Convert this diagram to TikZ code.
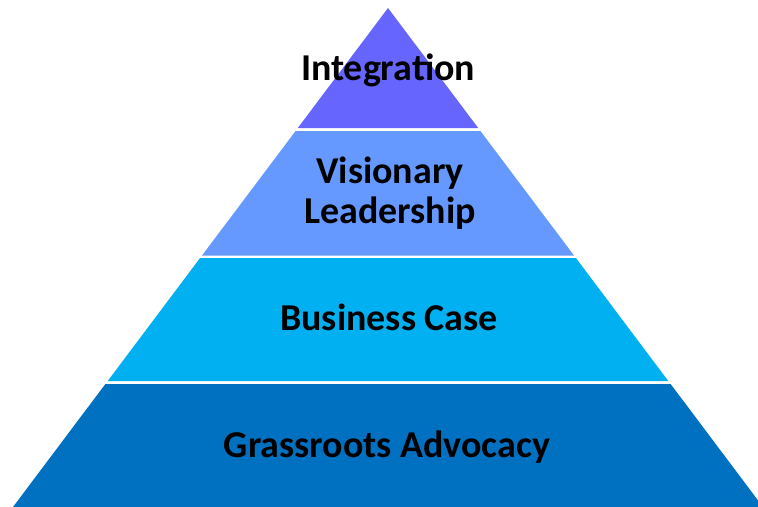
\documentclass[tikz,border=0pt]{standalone}
\usepackage{fontspec}
\setmainfont{Carlito}
\usepackage{xcolor}
\definecolor{integcol}{HTML}{6666FF}
\definecolor{visioncol}{HTML}{6699FF}
\definecolor{casecol}{HTML}{00B0F0}
\definecolor{rootscol}{HTML}{0070C0}

\begin{document}
\begin{tikzpicture}[x=0.02cm,y=-0.02cm,
    layertext/.style={font=\fontsize{21.6}{23}\selectfont\bfseries, text=black, align=center, inner sep=0pt}]
    \useasboundingbox (0,0) rectangle (758,507);
    \clip (0,0) rectangle (758,507);

    % Integration
    \fill[integcol] (388,8) -- (478.2,128) -- (297.8,128) -- cycle;
    \node[layertext, anchor=base] (integ) at (388,80) {Integration};

    % Visionary Leadership
    \fill[visioncol] (295.6,131) -- (480.4,131) -- (574,255.5) -- (202,255.5) -- cycle;
    \node[layertext] (vision) at (390,193) {Visionary\\Leadership};

    % Business Case
    \fill[casecol] (200.1,258) -- (575.9,258) -- (668.3,381) -- (107.7,381) -- cycle;
    \node[layertext, anchor=base] (bcase) at (389,330) {Business Case};

    % Grassroots Advocacy
    \fill[rootscol] (105.4,384) -- (670.6,384) -- (763,507) -- (13,507) -- cycle;
    \node[layertext, anchor=base] (roots) at (387,457) {Grassroots Advocacy};
\end{tikzpicture}
\end{document}
